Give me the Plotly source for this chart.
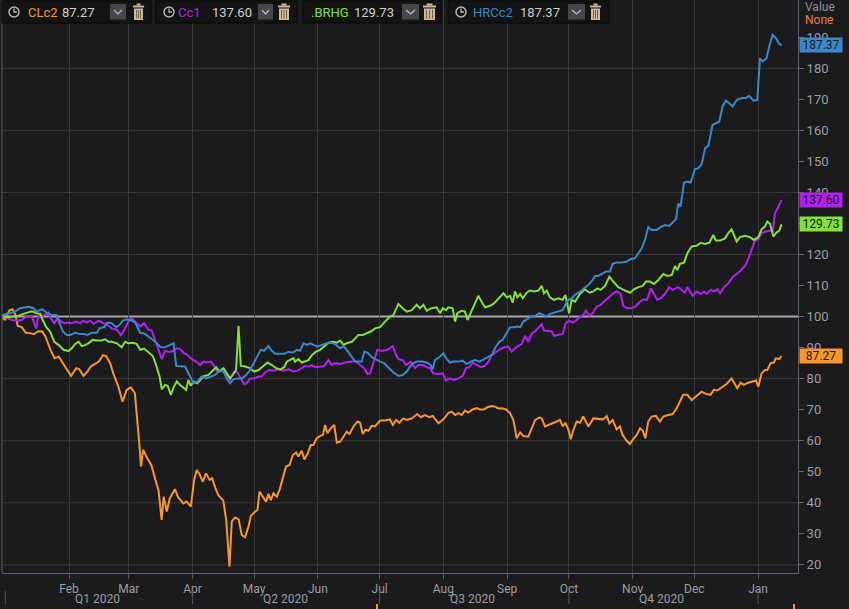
import plotly.graph_objects as go
import pandas as pd

# values indexed to 100, x given as days since 2020-01-01
BASE_DATE = "2020-01-01"

CLC2 = [(-1.5, 99.5), (0, 99), (2, 102), (3.5, 102.4), (5, 100.5), (6, 97), (8, 96.6), (10, 94.8),
        (12.5, 94.6), (14, 94.4), (16, 95.3), (18, 95.2), (19.5, 93.6), (22, 89.3), (24, 86.6),
        (26, 87.1), (28, 85), (30.5, 82.3), (32, 80.9), (34.5, 83.4), (36, 83), (38, 80.9), (40, 82.3),
        (41.5, 83.9), (43.5, 84.7), (45.5, 85.5), (47.5, 87.6), (49, 87.3), (51, 85), (52.5, 81.7),
        (55, 77.4), (57, 72.6), (59, 76.4), (61, 77.2), (63, 75.3), (64, 68.9), (65, 60.3), (66, 51.7),
        (67, 57.1), (69, 54.4), (71, 52.2), (73, 47.4), (74.5, 44.1), (76, 34.5), (77, 42), (78.5, 37.2),
        (80, 41.5), (82.5, 44.4), (84, 41.8), (86.6, 39.8), (88.2, 40.4), (90.2, 38.8), (91.8, 47.4),
        (93.1, 50.6), (94.4, 49.3), (96, 46.8), (97.6, 49.5), (99.3, 47.4), (100.6, 47.9), (102, 45),
        (103.6, 42.5), (106, 40.7), (107.4, 34.5), (109, 19.4), (110.1, 34), (111.7, 35.3), (113.4, 34.7),
        (115, 29.6), (116.6, 28.9), (118.2, 32.3), (119.4, 35.8), (121.5, 37.2), (122.6, 37.7),
        (123.6, 43.6), (125.2, 42.2), (126.8, 40.4), (128, 42.9), (129.1, 40.9), (130.4, 43.1), (132, 42),
        (133.3, 44.1), (134.4, 46.8), (136.5, 51.7), (138.2, 52.2), (139.8, 55.4), (141.4, 56.2),
        (142.5, 54.9), (144.1, 56.8), (145.4, 54), (147.1, 56), (148.5, 58.6), (149.8, 58.6), (151.4, 60.8),
        (153, 61.5), (154.4, 61.9), (155.5, 65.1), (156.6, 62.4), (158.2, 64), (159.9, 65.1), (161.2, 59.4),
        (162.8, 59.7), (164.4, 61.3), (166, 62.9), (167.3, 62.2), (169.3, 64.6), (171.2, 66.2),
        (172.5, 65.8), (173.8, 62.2), (175.1, 63.5), (176.6, 63.3), (178.2, 64.8), (179.8, 64.6),
        (182.2, 66.5), (184.6, 66.5), (187, 66.9), (188.4, 65.1), (190, 66.7), (191.6, 65.8), (193.5, 67.2),
        (195.2, 66.7), (197.6, 67.2), (200.3, 68.6), (202, 67.6), (204, 68.3), (206.2, 67.6), (207.8, 68),
        (209, 66.9), (210.6, 65.6), (213, 66.9), (215.4, 68.9), (217, 69.4), (218.7, 68.3), (220.3, 68.9),
        (221.9, 68.3), (223.5, 69.7), (225.1, 69.1), (227.2, 70.1), (229.2, 70.5), (230.8, 70.1),
        (232.8, 70.1), (234.4, 70.8), (236.5, 71.2), (238.1, 71), (239.7, 70.4), (241.3, 70.5),
        (243.5, 70.1), (245.4, 68.9), (247, 66.7), (247.8, 64), (248.6, 60.8), (250.3, 62.7), (251.9, 61.5),
        (254.3, 61.3), (255.9, 64), (257.6, 66.7), (259.7, 67.5), (260.8, 67.2), (262.4, 64.6),
        (264.5, 65.1), (266.5, 65.8), (268.1, 66.2), (269.7, 66.7), (271, 64.6), (272.3, 65.8),
        (273.8, 63.5), (274.9, 60.5), (276.2, 63.5), (277.8, 66.2), (279.4, 65.8), (281, 67.8),
        (283.5, 64.6), (285.9, 67.2), (288.3, 67.1), (290.7, 66.9), (292.4, 68), (293.7, 65.6),
        (295.3, 66.7), (297.2, 63.7), (298.8, 64.6), (300.1, 61.9), (302.1, 60), (303.7, 59), (305.3, 60.5),
        (307, 61.9), (308.6, 64), (309.9, 63.3), (311.2, 60.8), (312.6, 66.2), (314.2, 67.8), (316.3, 68),
        (318.3, 66.2), (319.9, 67.8), (322.3, 68.3), (324.5, 68.6), (326.4, 70.5), (328, 72.6),
        (329.6, 74.8), (331.6, 74.8), (333.7, 73.1), (336.1, 74.4), (338.5, 75.8), (340.7, 75.1),
        (342.9, 74.8), (344.5, 76.4), (346.2, 76.2), (348.3, 77.2), (350.7, 78.3), (353.1, 80.1),
        (354.3, 78.5), (355.9, 76.9), (357.5, 78.7), (359.1, 78), (361.2, 78.7), (363.3, 79.1), (365, 79.4),
        (366.1, 77.4), (367.7, 81.7), (369.3, 82.8), (370.5, 82.8), (372.1, 85), (373.7, 85.2),
        (374.7, 86.6), (376.3, 86.3), (377.4, 87.27)]

CC1 = [(-1.5, 100.2), (0.7, 99.5), (3.2, 98.9), (6.4, 98.7), (8, 98.9), (10.5, 100.2), (12.9, 100),
       (15, 96.2), (16.1, 100), (18.2, 100.2), (19.9, 100.9), (21, 101.3), (22.1, 99.5), (23.8, 97.9),
       (25.4, 99.5), (27, 98.4), (28.6, 97.9), (30.7, 98.1), (32.3, 97.9), (34.4, 98.4), (36.4, 97.9),
       (38, 98.7), (39.6, 98.1), (41.3, 98.7), (42.9, 97.6), (45.3, 98.7), (47.7, 97.9), (49.7, 97.3),
       (51.8, 96.2), (54.2, 95.7), (56.2, 94), (57.8, 95.7), (59.9, 98.4), (61.5, 99.5), (63.1, 98.4),
       (65.6, 96.8), (67.5, 97.9), (69.6, 95.7), (71.2, 95.5), (73.3, 91.4), (75, 88.4), (76.1, 86.3),
       (77.7, 89), (79.8, 88.6), (81.8, 89), (83.4, 89.8), (85, 89.6), (86.6, 88.4), (88.6, 87.6),
       (90.7, 86.3), (92.8, 85.5), (94.7, 84.4), (96.3, 85.5), (98, 85.2), (99.9, 85.5), (101.2, 84.4),
       (102.8, 82.6), (104.8, 82.8), (106.4, 83), (107.7, 81.2), (109.3, 79.8), (110.9, 82), (112.5, 82.3),
       (114.2, 80.5), (116.1, 78.3), (117.4, 78.5), (119, 80.1), (121, 80.1), (123.1, 80.7), (124.7, 80.7),
       (126.3, 82), (128.4, 82.8), (130.4, 82.6), (132.8, 83), (135.2, 82.6), (137.7, 83), (140.1, 82.3),
       (142, 82.6), (144.1, 83.4), (145.8, 84.1), (147.4, 83.9), (149, 84.4), (151.1, 83.7), (153.1, 83.9),
       (155, 84.1), (157.1, 86), (158.7, 84.4), (160.8, 85), (162.8, 84.7), (165.2, 85.2), (167.6, 85.5),
       (170.1, 85.7), (172.5, 84.4), (174.5, 83.4), (176.1, 81.5), (177.4, 81.7), (179, 85.2),
       (180.9, 89.3), (182.5, 89), (183.8, 89), (185.8, 89.3), (188.4, 90.5), (190, 87.6), (191.1, 86.3),
       (193.2, 86), (194.8, 84.4), (197.1, 85.5), (199.2, 83.4), (200.8, 84.4), (202.9, 84.4),
       (204.9, 83.7), (206.5, 83.4), (208.1, 81.7), (210.1, 81.5), (212.7, 81.7), (214.3, 79.4),
       (215.9, 80.1), (218.2, 79.6), (220.3, 80.1), (222.4, 80.9), (224, 83.4), (225.6, 83.7),
       (227.2, 85.2), (229.2, 84.4), (231.1, 83.7), (233.2, 84.1), (234.9, 85.5), (236.5, 87.6),
       (238.6, 88.7), (240.5, 89.5), (242.5, 90.1), (244.6, 90.3), (246.2, 88.7), (247.8, 89.8),
       (249.4, 90.5), (251.1, 91.2), (252.7, 93.8), (254.3, 91.9), (255.9, 94.4), (258, 95.5),
       (259.7, 96.8), (260.8, 97.6), (261.9, 95.5), (264, 95.2), (265.7, 95.2), (266.8, 93.8),
       (268.9, 94.1), (271, 94.4), (272.3, 97.6), (273.8, 98.7), (275.9, 98.1), (277.8, 98.9),
       (279.4, 100), (281, 100.5), (282.3, 101.9), (284, 100.2), (285.6, 101.1), (287.5, 103.2),
       (289.4, 103.8), (291.6, 105.2), (294, 106.7), (295.6, 107.5), (297.2, 108.1), (299.2, 107.3),
       (300.5, 103.4), (302.4, 102.7), (304.5, 102.7), (306.6, 103.4), (308.6, 104.8), (310.2, 105.6),
       (312.1, 105.4), (313.8, 109.1), (315.4, 107.3), (317, 105.4), (318.6, 105.9), (320.7, 107.3),
       (322.8, 109.5), (324.5, 108.6), (327.2, 109.5), (328.8, 108.6), (330.4, 107.7), (331.6, 109.5),
       (334.2, 106.7), (336.1, 108.1), (338.1, 107.3), (339.7, 108.1), (341, 107.3), (342.9, 108.6),
       (344.5, 108.1), (346.2, 108.8), (347.5, 107.5), (349.4, 109.5), (351.5, 110.7), (353.6, 112.7),
       (355.6, 113.7), (357.5, 114.8), (359.6, 116.3), (361.2, 118.5), (362.9, 121.7), (364.5, 124.5),
       (366.1, 124.9), (367.7, 126.9), (369.8, 127.4), (371.8, 127.7), (373.1, 127.4), (374.2, 133.3),
       (375.8, 135.4), (377.4, 137.60)]

BRHG = [(-1.5, 100.2), (0.7, 99.8), (4, 100), (6.4, 100.2), (8.8, 100.9), (11.3, 101.5), (12.9, 101.7),
        (15.3, 101.1), (17, 100.9), (18.2, 98.9), (19.9, 96.6), (21.8, 95.2), (23.8, 91.9), (25.9, 90.9),
        (28.3, 89.3), (30.7, 88.9), (32.3, 89.8), (34, 91.2), (35.6, 91.9), (37.2, 90.5), (38.8, 90.8),
        (40.4, 91.4), (42.5, 92.5), (44.5, 92.3), (46.9, 92.3), (48.5, 92.7), (50.2, 91.9), (51.8, 91.9),
        (54.2, 91.4), (56.6, 90.1), (58.3, 91.9), (59.9, 91.4), (62, 91.6), (63.9, 91.2), (65.6, 89.3),
        (67.5, 89.7), (69.6, 88.4), (71.7, 87.3), (73.3, 84.4), (75, 80.7), (76.1, 76.6), (77.7, 78),
        (79, 77.7), (80.5, 74.8), (81.8, 77.2), (83.4, 79.1), (85, 78), (86.6, 77.2), (87.9, 76.4),
        (89, 79.6), (90.2, 77.7), (91.5, 79.1), (93.4, 78.5), (95, 79.8), (96.7, 80.9), (98.8, 81.2),
        (100.9, 82.8), (102.5, 83.7), (104.1, 82.3), (106.1, 83.4), (107.7, 81.7), (109.3, 80.1),
        (110.9, 81.5), (112.2, 82.8), (113.4, 97), (114.5, 84.1), (116.6, 83.9), (119, 83.4), (121, 82.3),
        (123.1, 82.8), (125.2, 83.9), (127.5, 85.2), (129.6, 84.4), (131.7, 83.4), (133.9, 83),
        (135.6, 83.7), (136.9, 85.5), (138.5, 86), (140.1, 86.6), (140.9, 85.5), (142.5, 86.3),
        (144.1, 85.2), (145.8, 85.5), (147.4, 86), (149, 87.6), (151.1, 88.7), (153.1, 89.3), (155, 90.5),
        (157.1, 91.6), (159.2, 91.9), (161.2, 91.6), (162.8, 92.3), (164.4, 90.9), (166, 91.4),
        (168.5, 91.9), (170.1, 93), (171.7, 94.1), (173.8, 94.1), (175.7, 94.6), (177.7, 95.2),
        (179.8, 96.2), (182.2, 96.6), (184.6, 98.4), (187.1, 100), (188.7, 100.5), (191.1, 104.1),
        (193.2, 102.7), (195.2, 101.6), (197.6, 102.1), (200, 103.8), (201.6, 102.7), (203.3, 103.8),
        (204.9, 101.9), (207.3, 102.7), (209.7, 103), (211.4, 101.1), (212.7, 102.7), (214.3, 102.1),
        (215.4, 103), (217.5, 102.7), (218.7, 98.4), (219.8, 101.1), (221.9, 101.9), (223.5, 101.6),
        (224.7, 98.9), (226.3, 101.3), (227.9, 103.2), (230, 106.7), (231.6, 104.8), (233.2, 103),
        (235.4, 103.4), (237.3, 104.1), (239.2, 105.4), (240.5, 106.4), (242.2, 107.5), (243.8, 106.2),
        (245.4, 106.7), (246.7, 104.5), (247.8, 108.1), (249, 106.2), (250.3, 107.3), (251.6, 105.9),
        (253.5, 107.7), (255.1, 108.4), (257.1, 108.1), (259.2, 108.4), (260.8, 109.9), (261.9, 107.5),
        (263.2, 108.4), (264.8, 106.2), (266.8, 105.4), (268.9, 105.9), (271, 105.4), (272.3, 107),
        (273.3, 103.8), (274.1, 101.1), (275.4, 105.4), (277, 104.8), (279.4, 107.3), (281.8, 108.8),
        (284, 107.7), (285.9, 108.1), (287.8, 109.1), (289.4, 108.6), (291.6, 109.9), (293.7, 112.9),
        (295.6, 111.3), (298, 109.5), (300.1, 108.8), (302.1, 108.1), (303.7, 107.7), (305.7, 108.8),
        (307.8, 109.5), (309.9, 109.9), (311.5, 111.3), (313.4, 111.3), (315.4, 110.5), (317.5, 111.8),
        (319.9, 113.7), (321.9, 113.1), (324, 113.4), (325.6, 116.3), (326.7, 115), (328, 117),
        (330, 117.4), (331.6, 120.4), (333.7, 122.6), (336.1, 122.8), (338.1, 123.8), (340.2, 123.4),
        (342.3, 123.8), (344.2, 126.3), (345.5, 124.5), (347.5, 124.5), (349.9, 125.2), (351.5, 126.9),
        (353.1, 128.1), (355.6, 124.2), (357.2, 125.6), (359.6, 126), (362, 125.6), (364, 124.7),
        (366.1, 125.6), (367.7, 128.1), (369.3, 129), (370.5, 130.6), (371.8, 129.9), (373.4, 125.8),
        (375, 127.1), (376.3, 127.7), (377.4, 129.73)]

HRCC2 = [(-1.5, 100.5), (0.7, 100.9), (3.2, 101.3), (4.8, 101.6), (7.2, 102.7), (9.7, 103), (11.3, 103.2),
         (13.7, 102.7), (15.3, 101.6), (17.8, 102.4), (20.2, 101.3), (22.6, 100.5), (25, 100.5),
         (26.3, 97.9), (28, 95.2), (29.9, 94.1), (31.5, 94.1), (34, 94.8), (36.1, 94.4), (38, 94.4),
         (40, 94.1), (42.1, 94.8), (44.5, 94.8), (45.8, 96.2), (48.1, 96.6), (49.7, 98.1), (51.8, 97.9),
         (53.9, 96.6), (55.5, 97.3), (57.1, 98.7), (59.1, 99.1), (61, 98.9), (63.1, 98.1), (65.6, 94.8),
         (67.5, 94.6), (69.6, 93.6), (71.7, 92.5), (73.7, 91.4), (75.6, 90.1), (77.7, 90.1), (80.1, 90.9),
         (81.8, 91.4), (83.1, 84.1), (85, 84.1), (87.4, 83.9), (89.5, 81.2), (91.5, 78.5), (93.4, 79.1),
         (95.5, 80.7), (97.6, 80.1), (99.9, 80.7), (102, 81.2), (104.1, 82.6), (106.1, 82.3), (107.7, 80.1),
         (109.3, 78.5), (110.9, 79.8), (112.9, 80.1), (115, 80.1), (117.1, 81.2), (119, 82.8), (120.7, 85),
         (122.6, 87.6), (124.2, 89.3), (125.8, 89), (127.9, 90.5), (129.6, 89), (131.2, 88), (133.6, 88),
         (135.6, 88), (137.7, 88.7), (139.8, 88.4), (141.7, 89.3), (143.3, 89), (145, 91.4), (146.6, 90.9),
         (148.2, 91.4), (149.8, 90.9), (151.8, 90.3), (153.9, 90.9), (156.3, 91.4), (158.7, 91.6),
         (160.8, 90.9), (162.8, 89.8), (164.4, 90.5), (166, 89.3), (168, 87.3), (170.1, 85.5),
         (171.7, 85.5), (173.3, 85.5), (174.5, 88.7), (176.1, 88.4), (178.2, 86.9), (180.6, 86),
         (182.2, 85.5), (184.1, 85), (186.3, 83.4), (188.7, 82), (191.1, 80.9), (193.2, 81.2),
         (195.2, 82.3), (197.6, 84.7), (200, 85.5), (202.5, 85.5), (204.9, 85.2), (206.8, 84.4),
         (207.8, 83), (208.9, 86), (211, 86.9), (213, 88.2), (214.3, 86.6), (216.2, 85.2), (218.2, 85.5),
         (220.3, 85.5), (222.4, 85.8), (224.3, 84.7), (226.3, 85.5), (228.4, 86), (230.5, 85.5),
         (232.8, 86.3), (234.4, 86.6), (236.5, 87.6), (238.1, 89.8), (240.2, 91.9), (241.8, 92.5),
         (243.8, 94.6), (245.4, 96.6), (247.3, 96.6), (249, 96.8), (250.3, 96.6), (251.9, 98.4),
         (253.5, 99.1), (255.4, 100), (257.5, 100.2), (259.7, 101.1), (261.6, 100.5), (263.2, 100),
         (264.8, 100.9), (266.8, 101.3), (268.9, 101.6), (271, 102.1), (272.3, 103.8), (273.8, 105.4),
         (275.4, 105.9), (277, 107), (279.4, 108.1), (281.3, 109.1), (283.4, 110.2), (285.6, 111.8),
         (286.7, 113.1), (288.3, 113.1), (289.9, 113.7), (292, 114.5), (294, 114.5), (295.3, 117),
         (297.2, 117.4), (299.7, 117.4), (302.1, 117.7), (304, 118.5), (306.1, 118.8), (307.8, 120.4),
         (309.4, 122), (311, 124.7), (312.6, 128.8), (314.2, 127.9), (316.7, 127.9), (318.6, 128.8),
         (320.7, 129.5), (322.8, 129.2), (324.5, 130.3), (326.1, 131.4), (327.2, 136.5), (328.3, 135.4),
         (330, 143.2), (331.6, 143.5), (333.2, 143.2), (335.3, 147.5), (337, 147.8), (338.6, 149.2),
         (340.2, 154.2), (341.8, 155), (343.9, 161.8), (345.8, 162.3), (347.1, 162.8), (348.8, 167.9),
         (350.4, 169.6), (352, 168.7), (353.6, 167.7), (355.6, 169.8), (358, 170.4), (360.1, 170.4),
         (361.7, 171.1), (363.7, 169.6), (365.6, 169.8), (366.9, 183.2), (368.2, 182.2), (370.1, 183.2),
         (371.4, 187), (373.1, 190.8), (374.7, 189.7), (376.3, 187.9), (377.4, 187.37)]

SERIES = [CLC2, CC1, BRHG, HRCC2]
SERIES_NAMES = ["CLc2", "Cc1", ".BRHG", "HRCc2"]
SERIES_COLORS = ["#f7962f", "#b420f0", "#86e03c", "#3a87c9"]
HAS_CLOCK = [True, True, False, True]

MONTH_TICKS = ["2020-02-01", "2020-03-01", "2020-04-01", "2020-05-01", "2020-06-01", "2020-07-01",
               "2020-08-01", "2020-09-01", "2020-10-01", "2020-11-01", "2020-12-01", "2021-01-01"]
MONTH_LABELS = ["Feb", "Mar", "Apr", "May", "Jun", "Jul", "Aug", "Sep", "Oct", "Nov", "Dec", "Jan"]
QUARTER_BOUNDS = ["2020-01-01", "2020-04-01", "2020-07-01", "2020-10-01", "2021-01-01"]
QUARTER_MIDS = ["2020-02-15", "2020-05-16", "2020-08-15", "2020-11-15"]
QUARTER_LABELS = ["Q1 2020", "Q2 2020", "Q3 2020", "Q4 2020"]
Y_TICKS = list(range(20, 200, 10))
GRID_LEVELS = [20, 40, 60, 80, 120, 140, 160, 180]
BASELINE = 100

BG = "#1b1b1d"
GRID = "#38383b"
AXIS = "#5e5e62"
TEXT = "#9d9da2"
FONT = "Roboto, Arial, sans-serif"

base = pd.Timestamp(BASE_DATE)


def to_dates(days):
    return [base + pd.Timedelta(days=d) for d in days]


# plot area in pixels: x 2..798, y 0..573
def fx(px):
    return (px - 2) / 796


def fy(py):
    return (573 - py) / 573


fig = go.Figure()

for pts, name, color in zip(SERIES, SERIES_NAMES, SERIES_COLORS):
    days, vals = zip(*pts)
    fig.add_trace(go.Scatter(
        x=to_dates(days), y=list(vals), mode='lines', name=name,
        line=dict(color=color, width=2),
        hovertemplate=name + ' %{y:.2f}<extra></extra>'
    ))

shapes = []
for lvl in GRID_LEVELS:
    shapes.append(dict(type='line', xref='paper', x0=0, x1=1, yref='y', y0=lvl, y1=lvl,
                       line=dict(color=GRID, width=1), layer='between'))
shapes.append(dict(type='line', xref='paper', x0=0, x1=1, yref='y', y0=BASELINE, y1=BASELINE,
                   line=dict(color='#a8a8ab', width=2), layer='between'))
# left frame line
shapes.append(dict(type='line', xref='paper', x0=0, x1=0, yref='paper', y0=0, y1=1,
                   line=dict(color=AXIS, width=1)))

# quarter separators under the month row
for q in QUARTER_BOUNDS:
    shapes.append(dict(type='line', xref='x', x0=q, x1=q, yref='paper', y0=fy(591), y1=fy(604),
                       line=dict(color='#56565a', width=1)))

# orange scroll markers at the very bottom
for mx in [377, 794]:
    shapes.append(dict(type='line', xref='paper', x0=fx(mx), x1=fx(mx), yref='paper',
                       y0=fy(604), y1=fy(609), line=dict(color='#f7962f', width=2)))

annotations = []
for mid, lab in zip(QUARTER_MIDS, QUARTER_LABELS):
    annotations.append(dict(xref='x', x=mid, yref='paper', y=fy(599), text=lab, showarrow=False,
                            xanchor='center', yanchor='middle',
                            font=dict(family=FONT, size=12, color=TEXT)))

# legend chips along the top
BOXES = [
    dict(x0=2, x1=151, clock=14, name=26, value=60, btn=(110, 126), trash=(133, 144)),
    dict(x0=156, x1=297, clock=169, name=176, value=210, btn=(258, 273), trash=(278, 290)),
    dict(x0=303, x1=441, clock=None, name=309, value=352, btn=(402, 419), trash=(423, 436)),
    dict(x0=448, x1=609, clock=461, name=471, value=518, btn=(568, 585), trash=(590, 601)),
]
for box, pts, name, color, clock in zip(BOXES, SERIES, SERIES_NAMES, SERIES_COLORS, HAS_CLOCK):
    last = pts[-1][1]
    shapes.append(dict(type='rect', xref='paper', yref='paper', x0=fx(box['x0']), x1=fx(box['x1']),
                       y0=fy(23), y1=fy(1), fillcolor='#141415', line=dict(color='#070707', width=1)))
    if clock:
        cx = box['clock']
        shapes.append(dict(type='circle', xref='paper', yref='paper', x0=fx(cx - 5), x1=fx(cx + 5),
                           y0=fy(17), y1=fy(7), line=dict(color='#b8b8bb', width=1.5)))
        shapes.append(dict(type='path', xref='paper', yref='paper',
                           path=f"M {fx(cx)} {fy(8.5)} L {fx(cx)} {fy(12)} L {fx(cx + 3)} {fy(12)}",
                           line=dict(color='#b8b8bb', width=1.3)))
    b0, b1 = box['btn']
    shapes.append(dict(type='rect', xref='paper', yref='paper', x0=fx(b0), x1=fx(b1),
                       y0=fy(19.5), y1=fy(4), fillcolor='#47474b', line=dict(width=0)))
    bc = (b0 + b1) / 2
    shapes.append(dict(type='path', xref='paper', yref='paper',
                       path=f"M {fx(b0 + 4)} {fy(10)} L {fx(bc)} {fy(14)} L {fx(b1 - 4)} {fy(10)}",
                       line=dict(color='#bdbdc2', width=1.2)))
    t0, t1 = box['trash']
    shapes.append(dict(type='rect', xref='paper', yref='paper', x0=fx(t0 + 1), x1=fx(t1 - 1),
                       y0=fy(20), y1=fy(8.5), fillcolor='#c9bb9c', line=dict(width=0)))
    shapes.append(dict(type='rect', xref='paper', yref='paper', x0=fx(t0), x1=fx(t1),
                       y0=fy(7.5), y1=fy(5.5), fillcolor='#c9bb9c', line=dict(width=0)))
    shapes.append(dict(type='rect', xref='paper', yref='paper', x0=fx(t0 + 3.5), x1=fx(t1 - 3.5),
                       y0=fy(5.5), y1=fy(3.5), fillcolor='#c9bb9c', line=dict(width=0)))
    for sx in [t0 + 3.5, (t0 + t1) / 2, t1 - 3.5]:
        shapes.append(dict(type='line', xref='paper', yref='paper', x0=fx(sx), x1=fx(sx),
                           y0=fy(18.5), y1=fy(10), line=dict(color='#6d6352', width=1)))
    annotations.append(dict(xref='paper', yref='paper', x=fx(box['name']), y=fy(12), text=name,
                            showarrow=False, xanchor='left', yanchor='middle',
                            font=dict(family=FONT, size=13, color=color)))
    annotations.append(dict(xref='paper', yref='paper', x=fx(box['value']), y=fy(12),
                            text=f"{last:.2f}", showarrow=False, xanchor='left', yanchor='middle',
                            font=dict(family=FONT, size=13, color='#cfcfd2')))
    # last-value tag on the right axis
    annotations.append(dict(xref='paper', yref='y', x=1, y=last, text=f"{last:.2f}", showarrow=False,
                            xanchor='left', yanchor='middle', xshift=1, bgcolor=color, width=42,
                            height=14, borderpad=0, align='center',
                            font=dict(family=FONT, size=12, color='#1a1a1a')))

annotations.append(dict(xref='paper', yref='paper', x=fx(803), y=fy(7), text='Value', showarrow=False,
                        xanchor='left', yanchor='middle', font=dict(family=FONT, size=12, color='#8e8e93')))
annotations.append(dict(xref='paper', yref='paper', x=fx(803), y=fy(20), text='None', showarrow=False,
                        xanchor='left', yanchor='middle', font=dict(family=FONT, size=12, color='#f27e2a')))

fig.update_layout(
    width=849,
    height=609,
    margin=dict(l=2, r=51, t=0, b=36),
    paper_bgcolor=BG,
    plot_bgcolor=BG,
    showlegend=False,
    hovermode='x',
    xaxis=dict(
        type='date',
        range=[base + pd.Timedelta(days=-1.6), base + pd.Timedelta(days=385.4)],
        tickvals=MONTH_TICKS,
        ticktext=MONTH_LABELS,
        showgrid=True,
        gridcolor=GRID,
        gridwidth=1,
        ticks='outside',
        ticklen=5,
        tickcolor='#56565a',
        showline=True,
        linecolor=AXIS,
        linewidth=1,
        zeroline=False,
        tickfont=dict(family=FONT, size=12, color=TEXT),
    ),
    yaxis=dict(
        side='right',
        range=[17.4, 202],
        tickvals=Y_TICKS,
        showgrid=False,
        ticks='outside',
        ticklen=5,
        tickcolor='#6a6a6e',
        showline=True,
        linecolor=AXIS,
        linewidth=1,
        zeroline=False,
        tickfont=dict(family=FONT, size=13, color=TEXT),
    ),
    shapes=shapes,
    annotations=annotations,
)

# drop the browser's default page margin so the figure sits at the window corner
fig.write_html("out.html", config={'displayModeBar': False},
               post_script="document.body.style.margin='0';document.body.style.background='#1b1b1d';")
